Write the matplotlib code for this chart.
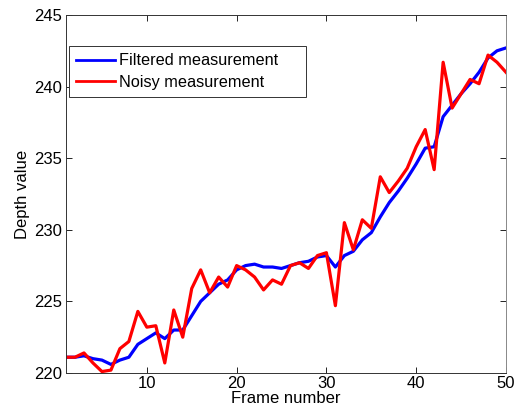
import numpy as np
import matplotlib.pyplot as plt

plt.rcParams['font.family'] = ['Liberation Sans', 'DejaVu Sans']

frames = list(range(1, 51))

# noisy depth readings
noisy = [221.1, 221.1, 221.4, 220.7, 220.1, 220.2, 221.7, 222.2, 224.3, 223.2,
         223.3, 220.7, 224.4, 222.5, 225.9, 227.2, 225.6, 226.7, 226.0, 227.5,
         227.2, 226.7, 225.8, 226.5, 226.2, 227.5, 227.7, 227.3, 228.2, 228.4,
         224.7, 230.5, 228.6, 230.7, 230.1, 233.7, 232.6, 233.4, 234.3, 235.8,
         237.0, 234.2, 241.7, 238.5, 239.5, 240.5, 240.2, 242.2, 241.7, 241.0]

# filtered output
filtered = [221.1, 221.1, 221.2, 221.0, 220.9, 220.6, 220.9, 221.1, 222.0, 222.4,
            222.8, 222.4, 223.0, 223.0, 224.0, 225.0, 225.6, 226.2, 226.5, 227.2,
            227.5, 227.6, 227.4, 227.4, 227.3, 227.5, 227.7, 227.8, 228.1, 228.2,
            227.4, 228.2, 228.5, 229.3, 229.8, 230.9, 231.9, 232.7, 233.6, 234.6,
            235.7, 235.8, 237.9, 238.7, 239.5, 240.2, 241.0, 242.0, 242.5, 242.7]

fig = plt.figure(figsize=(5.17, 4.11), dpi=100)
ax = fig.add_axes([0.1277, 0.0925, 0.851, 0.871])

ax.plot(frames, filtered, color=(0, 0, 1), lw=2.3, label='Filtered measurement')
ax.plot(frames, noisy, color=(1, 0, 0), lw=2.3, label='Noisy measurement')

ax.set_xlim(1, 50)
ax.set_ylim(220, 245)
ax.set_xticks([10, 20, 30, 40, 50])
ax.set_yticks([220, 225, 230, 235, 240, 245])
ax.tick_params(direction='in', top=True, right=True, labelsize=12, length=4, width=0.6)
ax.tick_params(axis='x', pad=2)
ax.tick_params(axis='y', pad=3)
for s in ax.spines.values():
    s.set_linewidth(0.7)
    s.set_color('#333333')
ax.spines['right'].set_color('#888888')

ax.set_xlabel('Frame number', fontsize=12, labelpad=0)
ax.set_ylabel('Depth value', fontsize=12, labelpad=3)

# matlab style legend box, wide with padding on the right
leg = ax.legend(loc='upper left', bbox_to_anchor=(0.007, 0.813, 0.539, 0.1), mode='expand',
                borderaxespad=0, fontsize=11.7, handlelength=2.35, handletextpad=0.3,
                fancybox=False, framealpha=1, borderpad=0.45, labelspacing=0.38)
leg.get_frame().set_edgecolor('#333333')
leg.get_frame().set_linewidth(0.7)
for ln in leg.get_lines():
    ln.set_linewidth(2.0)

fig.savefig('out.png', dpi=100)
